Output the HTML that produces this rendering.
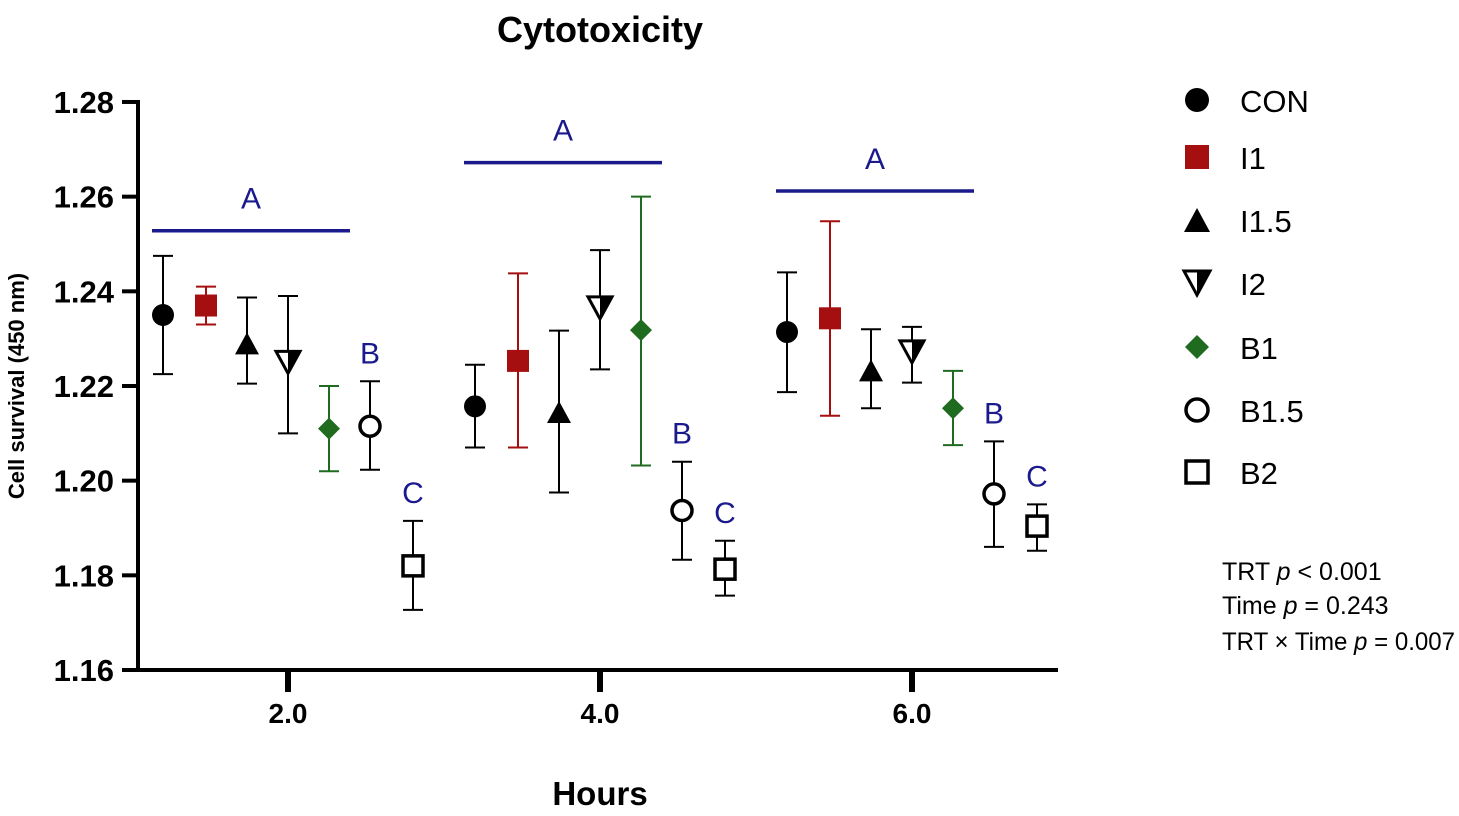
<!DOCTYPE html>
<html><head><meta charset="utf-8"><style>
body{margin:0;background:#fff;}
svg text{font-family:"Liberation Sans",Arial,sans-serif;}
</style></head><body>
<svg id="chart" width="1459" height="811" xmlns="http://www.w3.org/2000/svg">
<text x="600" y="42" text-anchor="middle" font-size="36" font-weight="bold">Cytotoxicity</text>
<text transform="translate(24,386) rotate(-90)" text-anchor="middle" font-size="22" font-weight="bold">Cell survival (450 nm)</text>
<text x="600" y="805" text-anchor="middle" font-size="33" font-weight="bold">Hours</text>
<g id="axes"></g><g id="marks"></g><g id="legend"></g>
<g font-size="25">
<text x="1222" y="580">TRT <tspan font-style="italic">p</tspan> &lt; 0.001</text>
<text x="1222" y="614">Time <tspan font-style="italic">p</tspan> = 0.243</text>
<text x="1222" y="650" textLength="233" lengthAdjust="spacingAndGlyphs">TRT × Time <tspan font-style="italic">p</tspan> = 0.007</text>
</g>
</svg>
<script>
const hours=[2,4,6];
const series=["CON","I1","I1.5","I2","B1","B1.5","B2"];
const means=[[1.235,1.237,1.229,1.225,1.211,1.2115,1.182],[1.2157,1.2253,1.2145,1.2365,1.2318,1.1937,1.1813],[1.2314,1.2343,1.2233,1.2272,1.2153,1.1972,1.1904]];
const lows=[[1.2225,1.233,1.2205,1.210,1.202,1.2023,1.1727],[1.207,1.207,1.1975,1.2235,1.2032,1.1833,1.1757],[1.2187,1.2137,1.2153,1.2207,1.2075,1.186,1.1852]];
const highs=[[1.2475,1.241,1.2387,1.239,1.220,1.221,1.1915],[1.2245,1.2438,1.2317,1.2487,1.260,1.204,1.1873],[1.244,1.2548,1.232,1.2325,1.2232,1.2083,1.195]];
const yTicks=[1.16,1.18,1.20,1.22,1.24,1.26,1.28];
const xTickLabels=["2.0","4.0","6.0"];
const sigA=[1.2528,1.2672,1.2612];
const sigLetters=[["B","C"],["B","C"],["B","C"]];
const NS="http://www.w3.org/2000/svg";
const y=v=>670-(v-1.16)/0.02*94.67;
const x=h=>288+(h-2)*156;
const offs=[-125,-82,-41,0,41,82,125];
const colors=["#000","#a50f0f","#000","#000","#1f6b1f","#000","#000"];
function mk(t,a,p){const e=document.createElementNS(NS,t);for(const k in a)e.setAttribute(k,a[k]);p.appendChild(e);return e;}
const axes=document.getElementById('axes'),marks=document.getElementById('marks'),leg=document.getElementById('legend');
let yl=mk('line',{x1:138,y1:100,x2:138,y2:672,stroke:'#000','stroke-width':4},axes);


let xl=mk('line',{x1:136,y1:670,x2:1058,y2:670,stroke:'#000','stroke-width':4},axes);


yTicks.forEach(t=>{mk('line',{x1:122,x2:138,y1:y(t),y2:y(t),stroke:'#000','stroke-width':4},axes);
const tx=mk('text',{x:114,y:y(t)+11,'text-anchor':'end','font-size':31,'font-weight':'bold'},axes);tx.textContent=t.toFixed(2);

});
hours.forEach((h,i)=>{mk('line',{x1:x(h),x2:x(h),y1:670,y2:692,stroke:'#000','stroke-width':6},axes);
const tx=mk('text',{x:x(h),y:723,'text-anchor':'middle','font-size':28,'font-weight':'bold'},axes);tx.textContent=xTickLabels[i];

});
function marker(k,cx,cy,g,c,s){s=s||11;
if(k==0)mk('circle',{cx,cy,r:s,fill:'#000'},g);
else if(k==1)mk('rect',{x:cx-s,y:cy-s,width:2*s,height:2*s,fill:c},g);
else if(k==2)mk('polygon',{points:`${cx},${cy-s} ${cx+s+1},${cy+s} ${cx-s-1},${cy+s}`,fill:'#000'},g);
else if(k==3){mk('polygon',{points:`${cx-s-1},${cy-s} ${cx+s+1},${cy-s} ${cx},${cy+s}`,fill:'#fff',stroke:'#000','stroke-width':3},g);mk('polygon',{points:`${cx},${cy-s} ${cx+s+1},${cy-s} ${cx},${cy+s}`,fill:'#000'},g);}
else if(k==4)mk('polygon',{points:`${cx},${cy-s} ${cx+s},${cy} ${cx},${cy+s} ${cx-s},${cy}`,fill:c},g);
else if(k==5)mk('circle',{cx,cy,r:s-1,fill:'#fff',stroke:'#000','stroke-width':3.5},g);
else mk('rect',{x:cx-s+1,y:cy-s+1,width:2*s-2,height:2*s-2,fill:'#fff',stroke:'#000','stroke-width':3.5},g);}
hours.forEach((h,gi)=>{series.forEach((s,k)=>{const cx=x(h)+offs[k],c=colors[k];
const g=mk('g',{},marks);


mk('line',{x1:cx,x2:cx,y1:y(lows[gi][k]),y2:y(highs[gi][k]),stroke:c,'stroke-width':2},g);
[lows[gi][k],highs[gi][k]].forEach(v=>mk('line',{x1:cx-10,x2:cx+10,y1:y(v),y2:y(v),stroke:c,'stroke-width':2},g));
marker(k,cx,y(means[gi][k]),g,c);});
const la=mk('line',{x1:x(h)-136,x2:x(h)+62,y1:y(sigA[gi]),y2:y(sigA[gi]),stroke:'#1a1a8c','stroke-width':3.5},marks);


const ta=mk('text',{x:x(h)-37,y:y(sigA[gi])-22,'text-anchor':'middle','font-size':30,fill:'#1a1a8c'},marks);ta.textContent='A';


[5,6].forEach((k,j)=>{const t=mk('text',{x:x(h)+offs[k],y:y(highs[gi][k])-18,'text-anchor':'middle','font-size':30,fill:'#1a1a8c'},marks);t.textContent=sigLetters[gi][j];

});});
const ly=[100,157,220,283,347,410,472];
series.forEach((s,k)=>{const g=mk('g',{},leg);


marker(k,1197,ly[k],g,colors[k],12);
const t=mk('text',{x:1240,y:ly[k]+12,'font-size':31},g);t.textContent=s;});
</script>
</body></html>
